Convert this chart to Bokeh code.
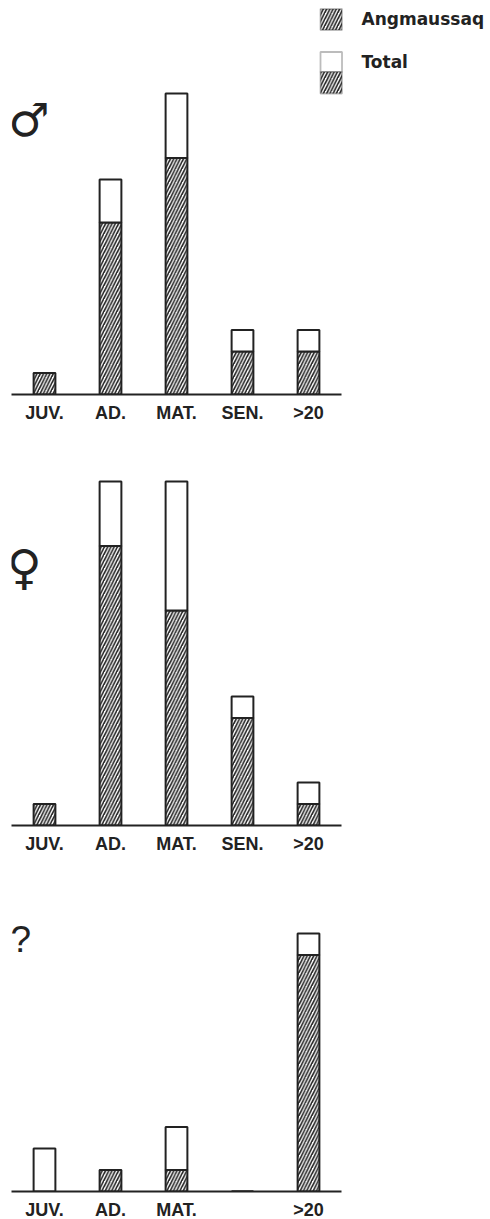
from bokeh.plotting import figure
from bokeh.models import Range1d, BoxAnnotation, Label, FixedTicker
from bokeh.layouts import column
from bokeh.embed import file_html
from bokeh.resources import INLINE

# ---- data (counts) ----
categories = ["JUV.", "AD.", "MAT.", "SEN.", ">20"]
male_angmaussaq = [1, 8, 11, 2, 2]
male_total = [1, 10, 14, 3, 3]
female_angmaussaq = [1, 13, 10, 5, 1]
female_total = [1, 16, 16, 6, 2]
unknown_angmaussaq = [0, 1, 1, 0, 11]
unknown_total = [2, 1, 3, 0, 12]
unknown_hidden_labels = ["SEN."]
legend_labels = ["Angmaussaq", "Total"]
panel_symbols = ["\u2642", "\u2640", "?"]

UNIT_Y = 21.5        # pixels per count
UNIT_X = 66.0        # pixels per category
INK = "#222222"
PAGE_W = 490
HATCH = dict(hatch_pattern="/", hatch_color=INK, hatch_scale=6.5, hatch_weight=1.6)


def panel(ang, tot, frame_h, left, bottom_border, hidden=()):
    xs = list(range(len(categories)))
    frame_w = PAGE_W - left
    p = figure(
        x_range=Range1d(-0.5, -0.5 + frame_w / UNIT_X),
        y_range=Range1d(0, frame_h / UNIT_Y),
        frame_width=frame_w, frame_height=frame_h,
        min_border_left=left, min_border_right=0,
        min_border_top=0, min_border_bottom=bottom_border,
        output_backend="svg", toolbar_location=None, title=None,
        background_fill_color="white", border_fill_color="white",
    )
    p.outline_line_color = None
    p.xgrid.visible = False
    p.ygrid.visible = False
    p.yaxis.visible = False
    ax = p.xaxis[0]
    ax.ticker = FixedTicker(ticks=xs)
    ax.bounds = (-0.5, len(categories) - 0.5)
    ax.major_label_overrides = {
        i: ("" if c in hidden else c) for i, c in zip(xs, categories)
    }
    ax.axis_line_color = INK
    ax.axis_line_width = 1.8
    ax.major_tick_line_color = None
    ax.minor_tick_line_color = None
    ax.major_label_standoff = 2
    ax.major_label_text_font = "Liberation Sans"
    ax.major_label_text_font_style = "bold"
    ax.major_label_text_font_size = "18px"
    ax.major_label_text_color = INK

    # hatched Angmaussaq part
    p.vbar(x=xs, bottom=0, top=ang, width=0.33,
           fill_color="white", line_color=INK, line_width=2, **HATCH)
    # white remainder up to the total
    p.vbar(x=xs, bottom=ang, top=tot, width=0.33,
           fill_color="white", line_color=INK, line_width=2)
    return p


p1 = panel(male_angmaussaq, male_total, 394, 11, 44)
p2 = panel(female_angmaussaq, female_total, 387, 9, 44)
p3 = panel(unknown_angmaussaq, unknown_total, 322, 7, 24,
           hidden=unknown_hidden_labels)

# ---- legend (screen units of the first panel) ----
box_kw = dict(left_units="screen", right_units="screen", top_units="screen",
              bottom_units="screen", line_color=INK, line_width=1.8,
              fill_color="white", fill_alpha=1.0, level="annotation")
p1.add_layout(BoxAnnotation(left=309, right=330.5, top=385.5, bottom=364.5, **box_kw, **HATCH))
p1.add_layout(BoxAnnotation(left=309, right=330.5, top=342.5, bottom=322.5, **box_kw))
p1.add_layout(BoxAnnotation(left=309, right=330.5, top=322.5, bottom=301, **box_kw, **HATCH))

lab_kw = dict(x_units="screen", y_units="screen", text_font="DejaVu Sans",
              text_font_style="bold", text_font_size="17px", text_color=INK,
              text_baseline="middle", text_align="left")
p1.add_layout(Label(x=350, y=375.7, text=legend_labels[0], **lab_kw))
p1.add_layout(Label(x=350, y=332.3, text=legend_labels[1], **lab_kw))

# ---- panel symbols ----
sym_kw = dict(x_units="screen", y_units="screen", text_color=INK,
              text_baseline="middle", text_align="left")
p1.add_layout(Label(x=-3.3, y=275, text=panel_symbols[0], text_font="DejaVu Sans",
                    text_font_size="46px", **sym_kw))
p2.add_layout(Label(x=-5, y=258.5, text=panel_symbols[1], text_font="DejaVu Sans",
                    text_font_size="48px", **sym_kw))
p3.add_layout(Label(x=-1, y=252.5, text=panel_symbols[2], text_font="Liberation Sans",
                    text_font_size="37px", **sym_kw))

layout = column(p1, p2, p3, spacing=0)
open("out.html", "w").write(file_html(layout, INLINE))
